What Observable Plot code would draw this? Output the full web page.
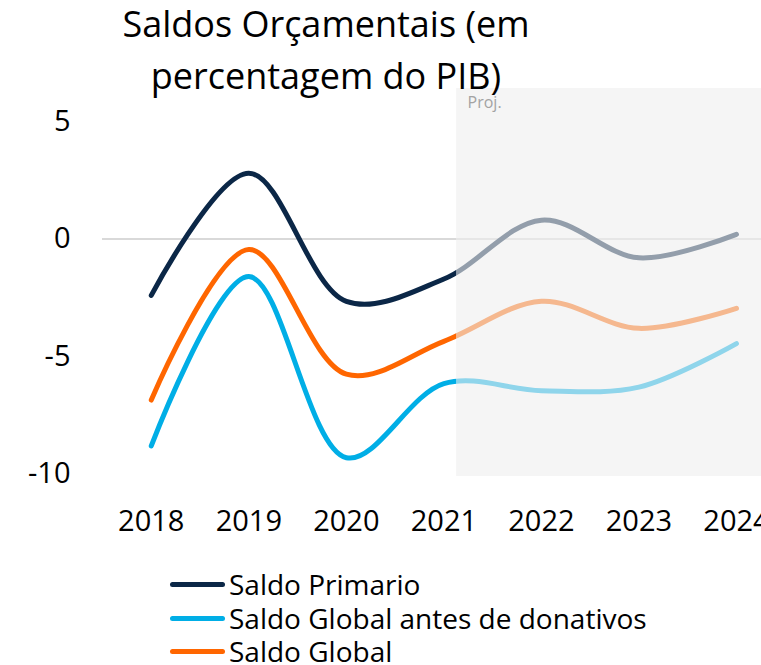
<!DOCTYPE html>
<html>
<head>
<meta charset="utf-8">
<script src="https://cdn.jsdelivr.net/npm/d3@7"></script>
<script src="https://cdn.jsdelivr.net/npm/@observablehq/plot@0.6"></script>
<style>
  html, body { margin: 0; padding: 0; background: #fff; overflow: hidden; }
  #wrap { position: relative; width: 761px; height: 665px; overflow: hidden; font-family: "Open Sans", sans-serif; color: #000; }
  #chart { position: absolute; left: 0; top: 0; width: 814px; }
  #chart svg { max-width: none !important; width: 814px !important; height: 560px !important; }
  #title { position: absolute; left: 106px; width: 440px; top: -2px; text-align: center; font-size: 36px; line-height: 52px; white-space: nowrap; }
  #legend { position: absolute; left: 170px; top: 568px; font-size: 28px; }
  .item { display: flex; align-items: center; height: 33.5px; }
  .sw { width: 55px; height: 5px; border-radius: 3px; margin-right: 4px; flex: none; }
  .item span { line-height: 33.5px; }
</style>
</head>
<body>
<div id="wrap">
  <div id="chart"></div>
  <div id="title"></div>
  <div id="legend"></div>
</div>
<script>
const titleLines = ["Saldos Orçamentais (em", "percentagem do PIB)"];
const years = [2018, 2019, 2020, 2021, 2022, 2023, 2024];
const saldoPrimario = [-2.4, 2.8, -2.65, -1.7, 0.8, -0.8, 0.2];
const saldoGlobalAntes = [-8.8, -1.6, -9.3, -6.15, -6.45, -6.3, -4.45];
const saldoGlobal = [-6.85, -0.45, -5.75, -4.35, -2.65, -3.8, -2.95];
const seriesNames = ["Saldo Primario", "Saldo Global antes de donativos", "Saldo Global"];
const seriesValues = [saldoPrimario, saldoGlobalAntes, saldoGlobal];
const seriesColors = ["#0b2747", "#00aee6", "#ff6600"];
const yTicks = [-10, -5, 0, 5];
const projStart = 2021.13;
const projLabel = "Proj.";

const rows = [];
seriesNames.forEach((name, i) => {
  years.forEach((yr, j) => rows.push({series: name, year: yr, value: seriesValues[i][j]}));
});

const xDomain = [2017.5, 2024.8];
const yDomain = [-10.1, 6.4];

const plot = Plot.plot({
  width: 814,
  height: 560,
  marginLeft: 102,
  marginRight: 0,
  marginTop: 88,
  marginBottom: 84,
  style: {fontFamily: "Open Sans, sans-serif", fontSize: "29px", color: "#000", background: "transparent", overflow: "visible", maxWidth: "none"},
  x: {domain: xDomain, ticks: years, tickFormat: d => String(d), tickSize: 0, tickPadding: 34, label: null},
  y: {domain: yDomain, ticks: yTicks, tickFormat: d => String(d), tickSize: 0, tickPadding: 32, label: null},
  color: {domain: seriesNames, range: seriesColors},
  marks: [
    Plot.ruleY([0], {stroke: "#d9d9d9", strokeWidth: 2}),
    Plot.line(rows, {x: "year", y: "value", z: "series", stroke: "series", strokeWidth: 5, curve: "catmull-rom", strokeLinecap: "round", strokeLinejoin: "round"}),
    Plot.rect([{x1: projStart, x2: xDomain[1], y1: yDomain[0], y2: yDomain[1]}], {x1: "x1", x2: "x2", y1: "y1", y2: "y2", fill: "#eeeeee", fillOpacity: 0.6}),
    Plot.text([projLabel], {x: projStart, y: yDomain[1], text: d => d, textAnchor: "start", lineAnchor: "top", dx: 11, dy: 8, fontSize: 16, fill: "#a3a3a3"})
  ]
});
document.getElementById("chart").appendChild(plot);

document.getElementById("title").innerHTML = titleLines.map(t => `<div>${t}</div>`).join("");
document.getElementById("legend").innerHTML = seriesNames.map((n, i) =>
  `<div class="item"><div class="sw" style="background:${seriesColors[i]}"></div><span>${n}</span></div>`).join("");
</script>
</body>
</html>
